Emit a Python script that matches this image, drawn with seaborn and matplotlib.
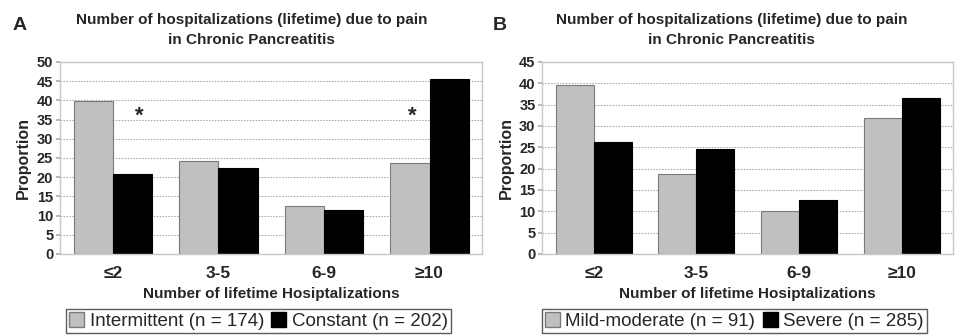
import matplotlib
matplotlib.use("Agg")
import matplotlib.pyplot as plt
from matplotlib.patches import Patch
import pandas as pd
import seaborn as sns

categories = ["≤2", "3-5", "6-9", "≥10"]

# Panel A: pain pattern
a_groups = ["Intermittent (n = 174)", "Constant (n = 202)"]
a_intermittent = [39.8, 24.2, 12.5, 23.8]
a_constant = [20.8, 22.4, 11.4, 45.6]

# Panel B: pain severity
b_groups = ["Mild-moderate (n = 91)", "Severe (n = 285)"]
b_mild = [39.7, 18.7, 10.0, 31.9]
b_severe = [26.3, 24.6, 12.6, 36.5]

title = "Number of hospitalizations (lifetime) due to pain\nin Chronic Pancreatitis"
xlabel = "Number of lifetime Hosiptalizations"
ylabel = "Proportion"

sns.set_theme(style="white")
plt.rcParams["font.family"] = ["Liberation Sans", "DejaVu Sans"]

GRAY = "#c0c0c0"
GRAY_EDGE = "#7a7a7a"
BLACK = "#000000"


def long_df(groups, s1, s2):
    return pd.DataFrame({
        "cat": categories * 2,
        "group": [groups[0]] * 4 + [groups[1]] * 4,
        "value": s1 + s2,
    })


def draw_panel(ax, df, groups, ymax, title_x, legend_x):
    sns.barplot(data=df, x="cat", y="value", hue="group", order=categories,
                hue_order=groups, palette=[GRAY, BLACK], width=0.74, gap=0,
                saturation=1, ax=ax, legend=False)
    for cont, ec in zip(ax.containers, [GRAY_EDGE, BLACK]):
        for bar in cont:
            bar.set_edgecolor(ec)
            bar.set_linewidth(0.8)
    ax.set_ylim(0, ymax)
    ax.set_yticks(range(0, ymax + 1, 5))
    ax.set_xlim(-0.5, 3.5)
    for y in range(5, ymax, 5):
        ax.axhline(y, color="#a0a0a0", linestyle=(0, (1.5, 1.5)), linewidth=0.7, zorder=0)
    for s in ax.spines.values():
        s.set_color("#c8c8c8")
        s.set_linewidth(1.0)
    ax.tick_params(axis="y", left=True, length=3, color="#b0b0b0", pad=2,
                   labelsize=10.5)
    ax.tick_params(axis="x", bottom=False, labelsize=12.5, pad=3)
    for lab in ax.get_yticklabels() + ax.get_xticklabels():
        lab.set_fontweight("bold")
    ax.set_xlabel(xlabel, fontsize=11, fontweight="bold", labelpad=4)
    ax.set_ylabel(ylabel, fontsize=11.5, fontweight="bold", labelpad=4)
    ax.set_title(title, fontsize=11, fontweight="bold", pad=13, x=title_x,
                 linespacing=1.5)
    handles = [Patch(facecolor=GRAY, edgecolor=GRAY_EDGE, label=groups[0]),
               Patch(facecolor=BLACK, edgecolor=BLACK, label=groups[1])]
    leg = ax.legend(handles=handles, loc="center", bbox_to_anchor=(legend_x, -0.35),
                    ncol=2, fontsize=13.5, frameon=True, fancybox=False,
                    handlelength=0.8, handleheight=0.8, handletextpad=0.3,
                    columnspacing=0.4, borderpad=0.15, borderaxespad=0)
    leg.get_frame().set_edgecolor("#333333")
    leg.get_frame().set_linewidth(1.0)


fig = plt.figure(figsize=(9.55, 3.35), dpi=100)
ax_a = fig.add_axes([0.063, 0.242, 0.442, 0.573])
ax_b = fig.add_axes([0.568, 0.242, 0.430, 0.573])

draw_panel(ax_a, long_df(a_groups, a_intermittent, a_constant), a_groups, 50, 0.453, 0.47)
draw_panel(ax_b, long_df(b_groups, b_mild, b_severe), b_groups, 45, 0.46, 0.467)

# significance markers
for xpos in [0.25, 2.84]:
    ax_a.text(xpos, 36.0, "*", ha="center", va="center", fontsize=16, fontweight="bold")

fig.text(0.013, 0.91, "A", fontsize=14, fontweight="bold")
fig.text(0.516, 0.91, "B", fontsize=14, fontweight="bold")

fig.savefig("out.png", dpi=100)
